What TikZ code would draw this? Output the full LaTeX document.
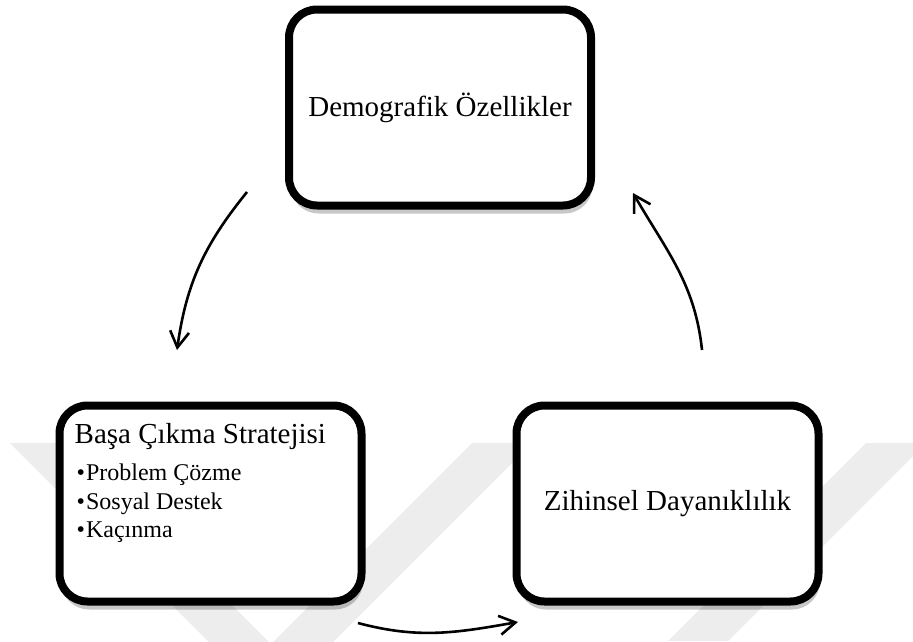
\documentclass[tikz,border=0pt]{standalone}
\usepackage{fontspec}
\setmainfont{Liberation Serif}
\usepackage{xcolor}
\usepackage{tikz}
\usetikzlibrary{arrows.meta,positioning,shadows}
\definecolor{markgray}{HTML}{EDEDED}

\begin{document}
\begin{tikzpicture}[
    x=1pt, y=1pt,
    box/.style={draw, line width=8pt, rounded corners=28pt, fill=white, inner sep=0pt,
        minimum width=302pt, minimum height=196pt, align=center,
        font=\fontsize{29}{34}\selectfont,
        drop shadow={shadow xshift=1.5pt, shadow yshift=-8pt, fill=black, opacity=0.22}},
    title/.style={anchor=base west, inner sep=0pt, font=\fontsize{29}{34}\selectfont},
    item/.style={anchor=base west, inner sep=0pt, font=\fontsize{24}{28}\selectfont},
    arrow/.style={-{Straight Barb[length=16pt,width=19pt]}, line width=2.6pt}
]
    \useasboundingbox (0,0) rectangle (913,-641);
    % faint watermark in the background
    \begin{scope}
        \clip (0,0) rectangle (913,-641);
        \fill[markgray] (10,-443) -- (70,-443) -- (271,-644) -- (472,-443) -- (532,-443) -- (271,-704) -- cycle;
        \fill[markgray] (866,-443) -- (926,-443) -- (728,-641) -- (668,-641) -- cycle;
    \end{scope}

    \node[box] (demo) at (440,-107.5) {Demografik Özellikler};
    \node[box] (strat) at (210.5,-503.5) {};
    \node[box, right=147pt of strat] (zihin) {Zihinsel Dayanıklılık};

    \node[title] (strattitle) at ([shift={(19,-42)}]strat.north west) {Başa Çıkma Stratejisi};
    \node[item] (problem) at ([shift={(2,-37)}]strattitle.base west) {•\hspace{1pt}Problem Çözme};
    \node[item] (sosyal) at ([yshift=-28.5pt]problem.base west) {•\hspace{1pt}Sosyal Destek};
    \node[item] (kacinma) at ([yshift=-28.5pt]sosyal.base west) {•\hspace{1pt}Kaçınma};

    \coordinate (demoout) at (247,-192);
    \coordinate (stratin) at (177,-350);
    \coordinate (stratout) at (358,-623);
    \coordinate (zihinin) at (518,-622);
    \coordinate (zihinout) at (702,-350);
    \coordinate (demoin) at (633,-193);

    \draw[arrow] (demoout) to[out=-129, in=82] (stratin);
    \draw[arrow] (stratout) to[out=-15, in=190] (zihinin);
    \draw[arrow] (zihinout) to[out=96, in=-60] (demoin);
\end{tikzpicture}
\end{document}
